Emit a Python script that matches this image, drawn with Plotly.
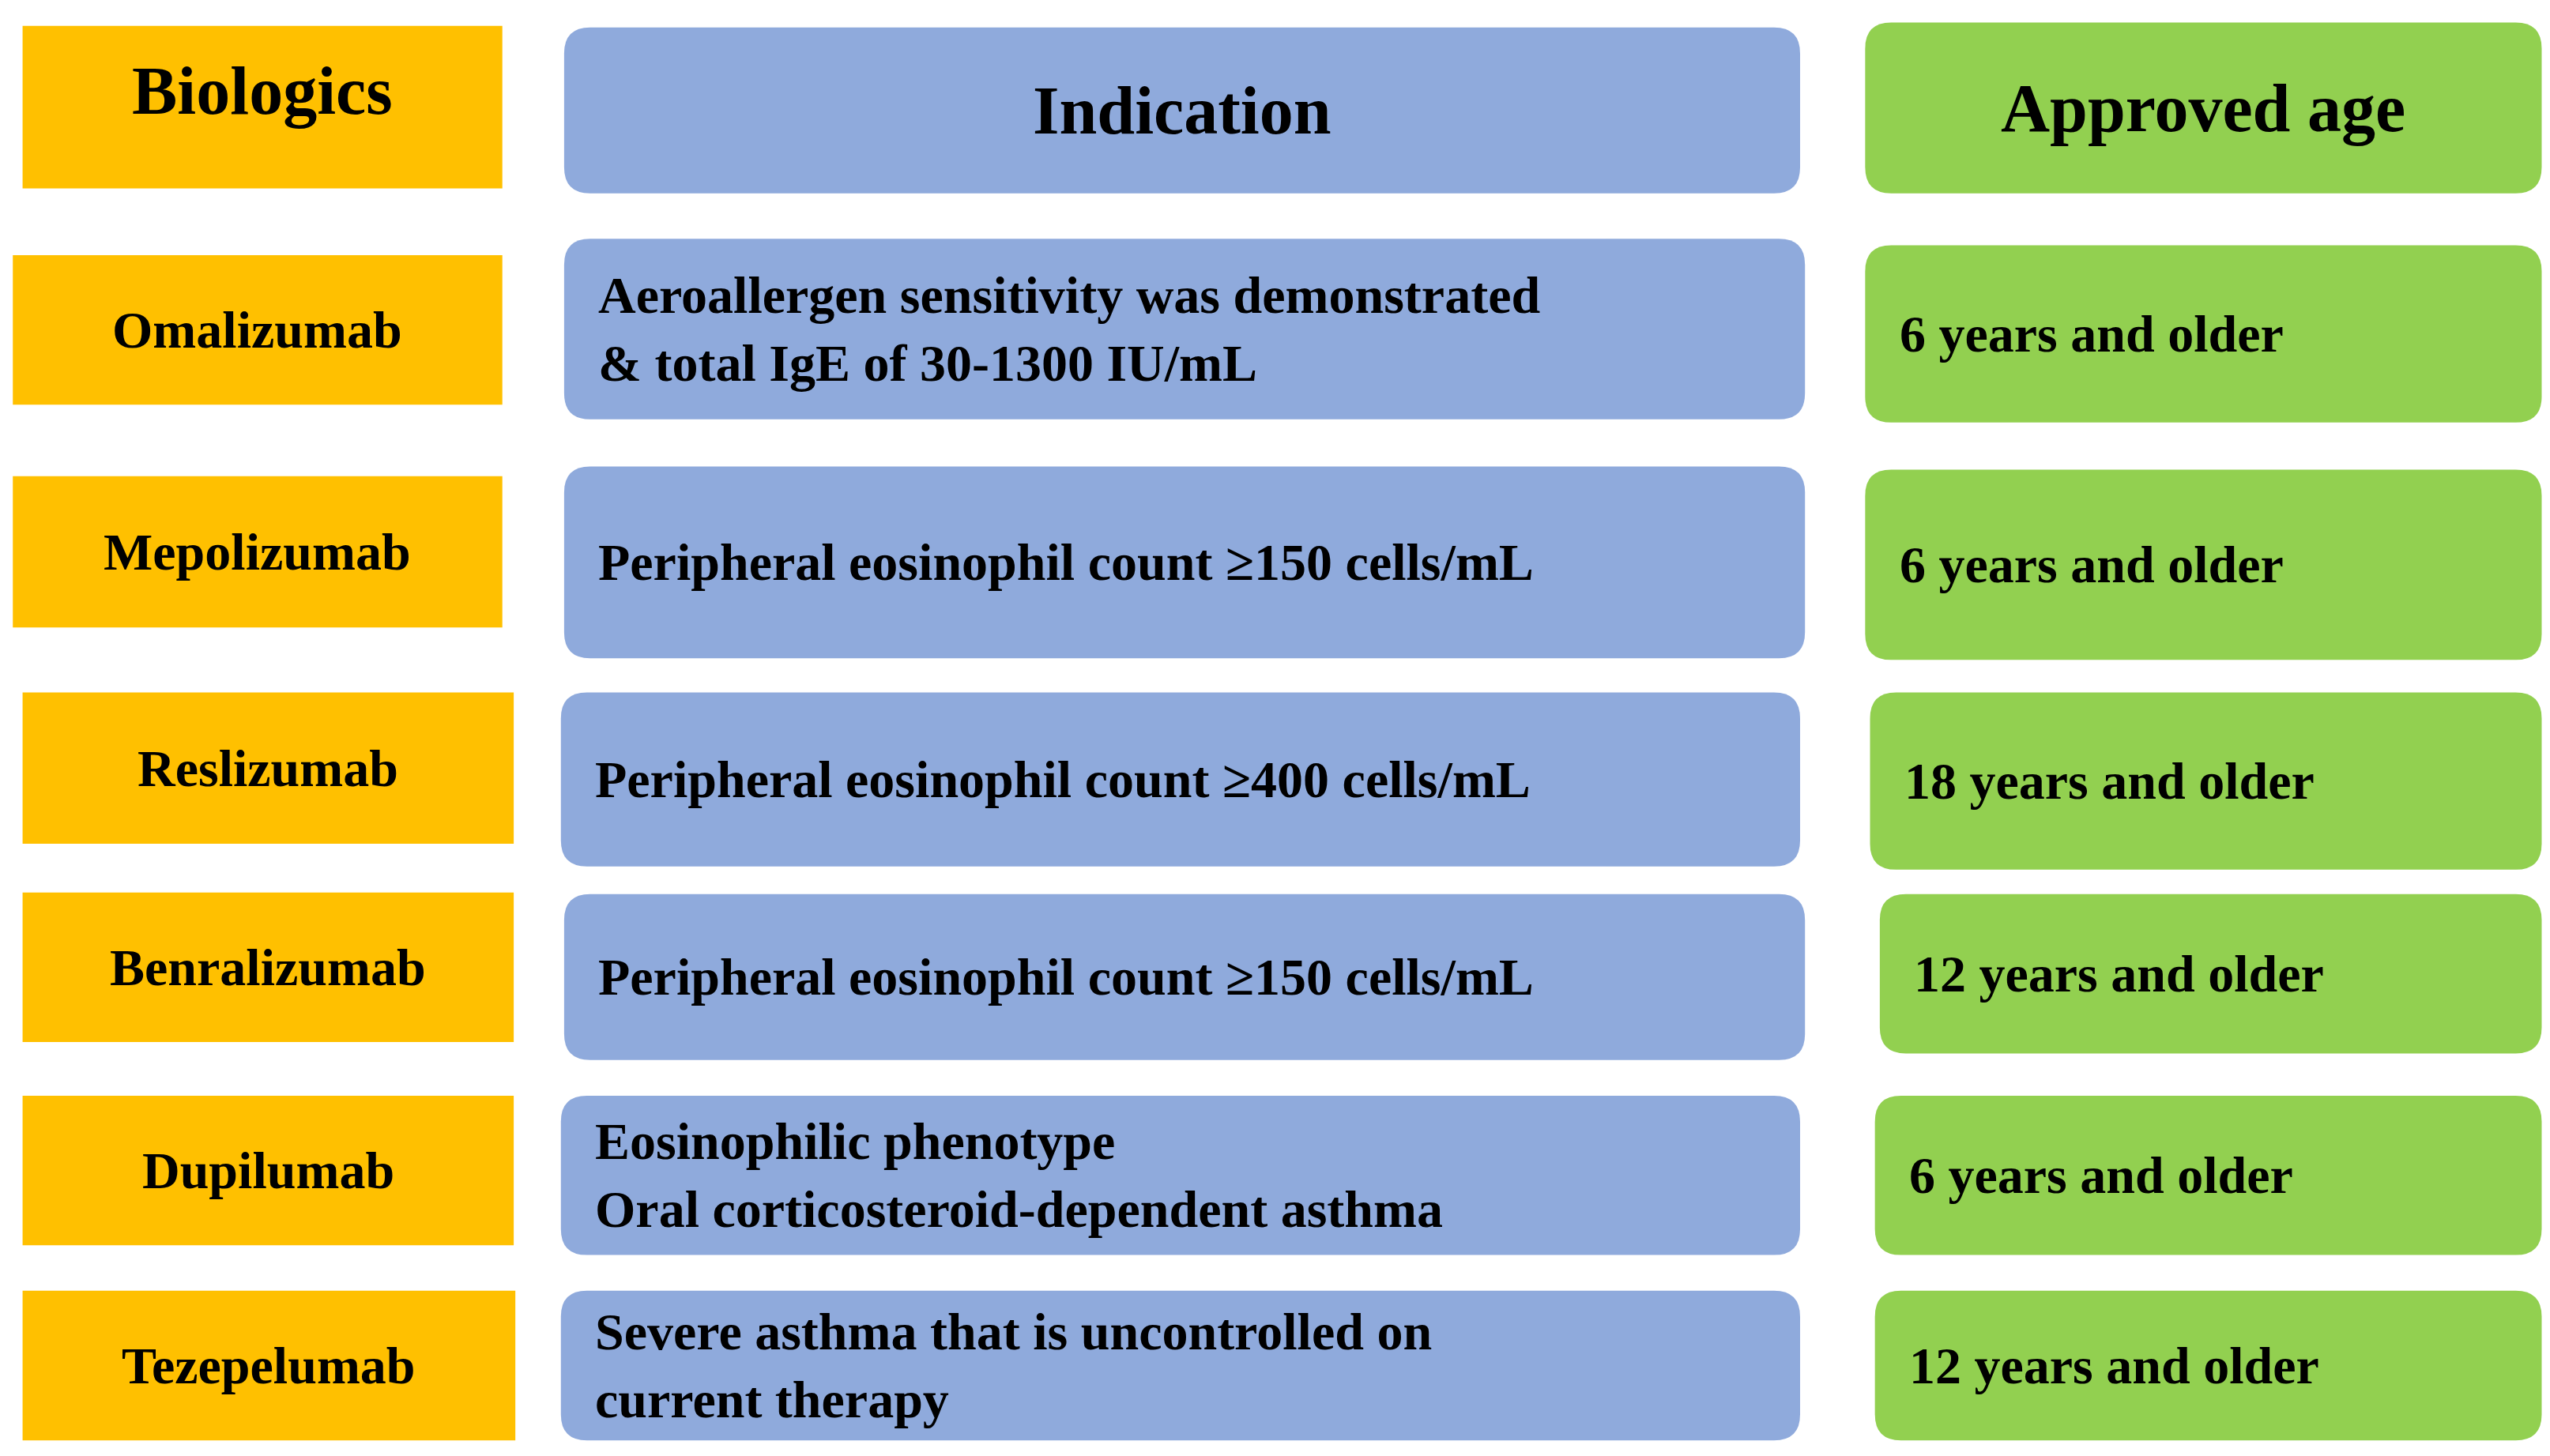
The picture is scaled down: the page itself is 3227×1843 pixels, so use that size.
import plotly.graph_objects as go

headers = ["Biologics", "Indication", "Approved age"]
biologics = ["Omalizumab", "Mepolizumab", "Reslizumab", "Benralizumab", "Dupilumab", "Tezepelumab"]
indications = [
    "Aeroallergen sensitivity was demonstrated<br>& total IgE of 30-1300 IU/mL",
    "Peripheral eosinophil count ≥150 cells/mL",
    "Peripheral eosinophil count ≥400 cells/mL",
    "Peripheral eosinophil count ≥150 cells/mL",
    "Eosinophilic phenotype<br>Oral corticosteroid-dependent asthma",
    "Severe asthma that is uncontrolled on<br>current therapy",
]
ages = ["6 years and older", "6 years and older", "18 years and older",
        "12 years and older", "6 years and older", "12 years and older"]

# box layout (x0, x1, y0, y1) in a 1568-wide canvas, header first
orange_boxes = [(10, 305, 12, 112), (4, 305, 153, 245), (4, 305, 289, 382), (10, 312, 422, 515),
                (10, 312, 545, 637), (10, 312, 670, 762), (10, 313, 790, 882)]
blue_boxes = [(343, 1103, 13, 115), (343, 1106, 143, 254), (343, 1106, 283, 401), (341, 1103, 422, 529),
              (343, 1106, 546, 648), (341, 1103, 670, 768), (341, 1103, 790, 882)]
green_boxes = [(1143, 1559, 10, 115), (1143, 1559, 147, 256), (1143, 1559, 285, 402), (1146, 1559, 422, 531),
               (1152, 1559, 546, 644), (1149, 1559, 670, 768), (1149, 1559, 790, 882)]

ORANGE, BLUE, GREEN = "#FFC000", "#8FAADC", "#92D050"
FONT = "Liberation Serif"


def rrect(x0, x1, y0, y1, r):
    return (f"M{x0+r},{y0} L{x1-r},{y0} Q{x1},{y0} {x1},{y0+r} L{x1},{y1-r} Q{x1},{y1} {x1-r},{y1} "
            f"L{x0+r},{y1} Q{x0},{y1} {x0},{y1-r} L{x0},{y0+r} Q{x0},{y0} {x0+r},{y0} Z")


fig = go.Figure()
shapes, annos = [], []
for b in orange_boxes:
    shapes.append(dict(type="rect", x0=b[0], x1=b[1], y0=b[2], y1=b[3], fillcolor=ORANGE, line_width=0))
for b in blue_boxes:
    shapes.append(dict(type="path", path=rrect(*b, 16), fillcolor=BLUE, line_width=0))
for b in green_boxes:
    shapes.append(dict(type="path", path=rrect(*b, 16), fillcolor=GREEN, line_width=0))

hfont = dict(family=FONT, size=86, color="black")
rfont = dict(family=FONT, size=66, color="black")
for i, h in enumerate(headers):
    b = [orange_boxes, blue_boxes, green_boxes][i][0]
    annos.append(dict(x=(b[0] + b[1]) / 2, y=(b[2] + b[3]) / 2 - (10 if i == 0 else 0), text=f"<b>{h}</b>",
                      showarrow=False, font=hfont, xanchor="center", yanchor="middle"))
for i in range(len(biologics)):
    b = orange_boxes[i + 1]
    annos.append(dict(x=(b[0] + b[1]) / 2, y=(b[2] + b[3]) / 2, text=f"<b>{biologics[i]}</b>",
                      showarrow=False, font=rfont, xanchor="center", yanchor="middle"))
    b = blue_boxes[i + 1]
    annos.append(dict(x=b[0] + 20, y=(b[2] + b[3]) / 2, text=f"<b>{indications[i]}</b>", align="left",
                      showarrow=False, font=rfont, xanchor="left", yanchor="middle"))
    b = green_boxes[i + 1]
    annos.append(dict(x=b[0] + 20, y=(b[2] + b[3]) / 2, text=f"<b>{ages[i]}</b>", align="left",
                      showarrow=False, font=rfont, xanchor="left", yanchor="middle"))

fig.update_layout(
    width=3227, height=1843, margin=dict(l=0, r=0, t=0, b=0),
    paper_bgcolor="white", plot_bgcolor="white",
    xaxis=dict(range=[0, 1568], visible=False, fixedrange=True),
    yaxis=dict(range=[895.5, 0], visible=False, fixedrange=True),
    shapes=shapes, annotations=annos, showlegend=False,
)
fig.write_html("out.html")
